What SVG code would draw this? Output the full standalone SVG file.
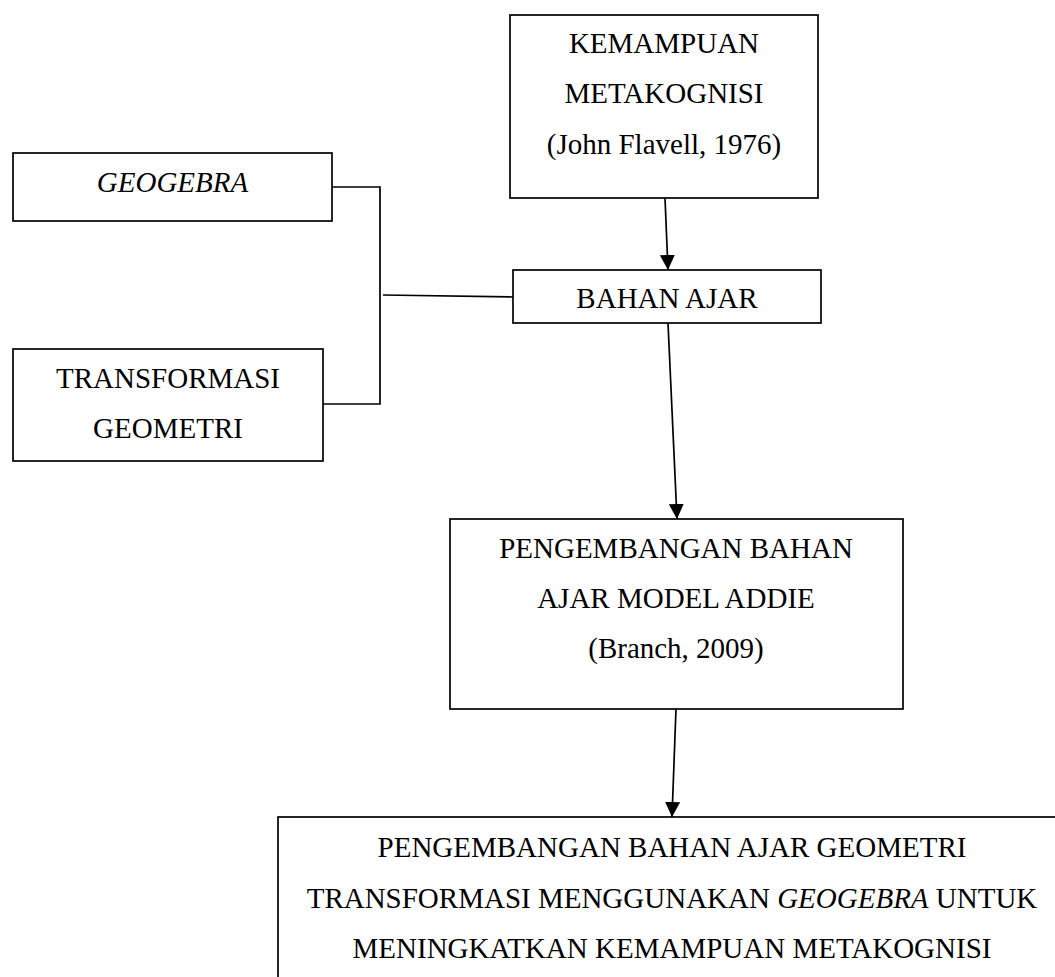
<svg xmlns="http://www.w3.org/2000/svg" width="1055" height="977" viewBox="0 0 1055 977">
<style>
.box{fill:#fff;stroke:#000;stroke-width:1.7}
.t{font-family:"Liberation Serif","Times New Roman","DejaVu Serif",serif;font-size:29px;fill:#000;text-anchor:middle}
.ln{fill:none;stroke:#000;stroke-width:1.7}
</style>
<defs>
<marker id="ah" markerUnits="userSpaceOnUse" markerWidth="16" markerHeight="16" refX="15" refY="7.5" orient="auto">
<path d="M0,0 L15,7.5 L0,15 z" fill="#000"/>
</marker>
</defs>
<rect width="1055" height="977" fill="#fff"/>
<g id="connectors">
<polyline class="ln" points="332,187 380,187 380,404 323,404"/>
<line class="ln" x1="383" y1="295" x2="513" y2="297"/>
<line class="ln" x1="665" y1="198" x2="668" y2="270" marker-end="url(#ah)"/>
<line class="ln" x1="668" y1="323" x2="677" y2="519" marker-end="url(#ah)"/>
<line class="ln" x1="676" y1="709" x2="672" y2="817" marker-end="url(#ah)"/>
</g>
<g id="metakognisi">
<rect class="box" x="510" y="15" width="308" height="183"/>
<text class="t" x="664" y="53">KEMAMPUAN</text>
<text class="t" x="664" y="103">METAKOGNISI</text>
<text class="t" x="664" y="154">(John Flavell, 1976)</text>
</g>
<g id="geogebra">
<rect class="box" x="13" y="153" width="319" height="68"/>
<text class="t" x="172.5" y="192" font-style="italic">GEOGEBRA</text>
</g>
<g id="transformasi">
<rect class="box" x="13" y="349" width="310" height="112"/>
<text class="t" x="168" y="388">TRANSFORMASI</text>
<text class="t" x="168" y="438">GEOMETRI</text>
</g>
<g id="bahan-ajar">
<rect class="box" x="513" y="270" width="308" height="53"/>
<text class="t" x="667" y="308">BAHAN AJAR</text>
</g>
<g id="addie">
<rect class="box" x="450" y="519" width="453" height="190"/>
<text class="t" x="676" y="558">PENGEMBANGAN BAHAN</text>
<text class="t" x="676" y="608">AJAR MODEL ADDIE</text>
<text class="t" x="676" y="658">(Branch, 2009)</text>
</g>
<g id="hasil">
<rect class="box" x="278" y="817" width="800" height="200"/>
<text class="t" x="672" y="857">PENGEMBANGAN BAHAN AJAR GEOMETRI</text>
<text class="t" x="672" y="908">TRANSFORMASI MENGGUNAKAN <tspan font-style="italic">GEOGEBRA</tspan> UNTUK</text>
<text class="t" x="672" y="958">MENINGKATKAN KEMAMPUAN METAKOGNISI</text>
</g>
</svg>
